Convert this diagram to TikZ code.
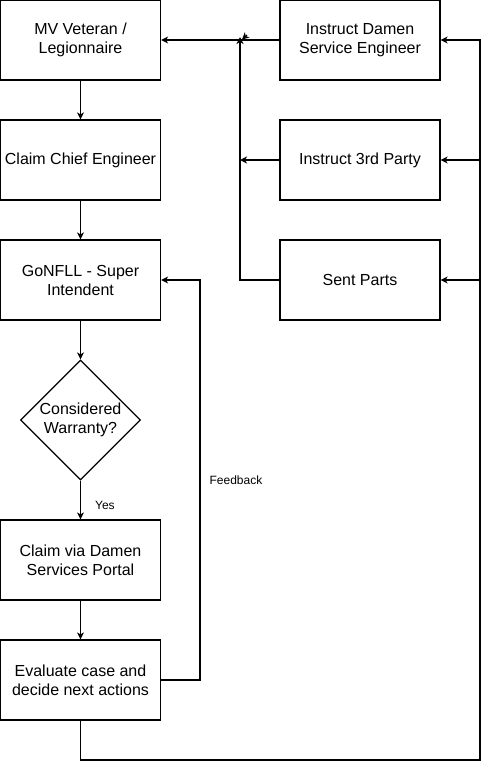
\documentclass[tikz,border=0pt]{standalone}
\usepackage{fontspec}
\setmainfont{Liberation Sans}
\usetikzlibrary{arrows.meta,shapes.geometric}
\begin{document}
\begin{tikzpicture}[x=1pt,y=-1pt,
  every path/.style={line width=1.2pt},
  box/.style={draw,line width=1.2pt,minimum width=160pt,minimum height=80pt,inner sep=0pt,align=center,font=\fontsize{16}{19}\selectfont},
  dia/.style={draw,line width=1.2pt,diamond,minimum width=120pt,minimum height=120pt,inner sep=0pt,align=center,font=\fontsize{16}{19}\selectfont},
  lbl/.style={font=\fontsize{12}{14}\selectfont,inner sep=1pt},
  arr/.style={-{Stealth[length=7pt,width=7pt,inset=2pt]}}]
\useasboundingbox (0,0) rectangle (489,769);
\node[box] (mv) at (80.5,40) {MV Veteran /\\Legionnaire};
\node[box] (cce) at (80.5,160) {Claim Chief Engineer};
\node[box] (gon) at (80.5,280) {GoNFLL - Super\\Intendent};
\node[dia] (cw) at (80.5,420) {Considered\\Warranty?};
\node[box] (cdp) at (80.5,560) {Claim via Damen\\Services Portal};
\node[box] (ev) at (80.5,680) {Evaluate case and\\decide next actions};
\node[box] (ids) at (360,40) {Instruct Damen\\Service Engineer};
\node[box] (i3p) at (360,160) {Instruct 3rd Party};
\node[box] (sp) at (360,280) {Sent Parts};
\coordinate (j1) at (240,40);
\coordinate (j2) at (240,160);
\coordinate (fb) at (200,680);
\coordinate (bl) at (80.5,760);
\coordinate (br) at (480,760);
\draw[arr] (mv) -- (cce);
\draw[arr] (cce) -- (gon);
\draw[arr] (gon) -- (cw);
\draw[arr] (cw) -- node[lbl,right,pos=0.63,xshift=13pt]{Yes} (cdp);
\draw[arr] (cdp) -- (ev);
\draw[arr] (ids) -- (mv);
\draw[arr] (i3p) -- (j2);
\draw[arr] (sp.west) -| ([yshift=3pt]j1);
\draw[arr] (247,35) -- (242,39.5);
\draw[arr] (ev.east) -- (fb) |- node[lbl,pos=0.25,right,xshift=8pt]{Feedback} (gon.east);
\draw[arr] (ev.south) -- (bl) -- (br) |- (ids.east);
\draw[arr] (480,160) -- (i3p.east);
\draw[arr] (480,280) -- (sp.east);
\end{tikzpicture}
\end{document}
